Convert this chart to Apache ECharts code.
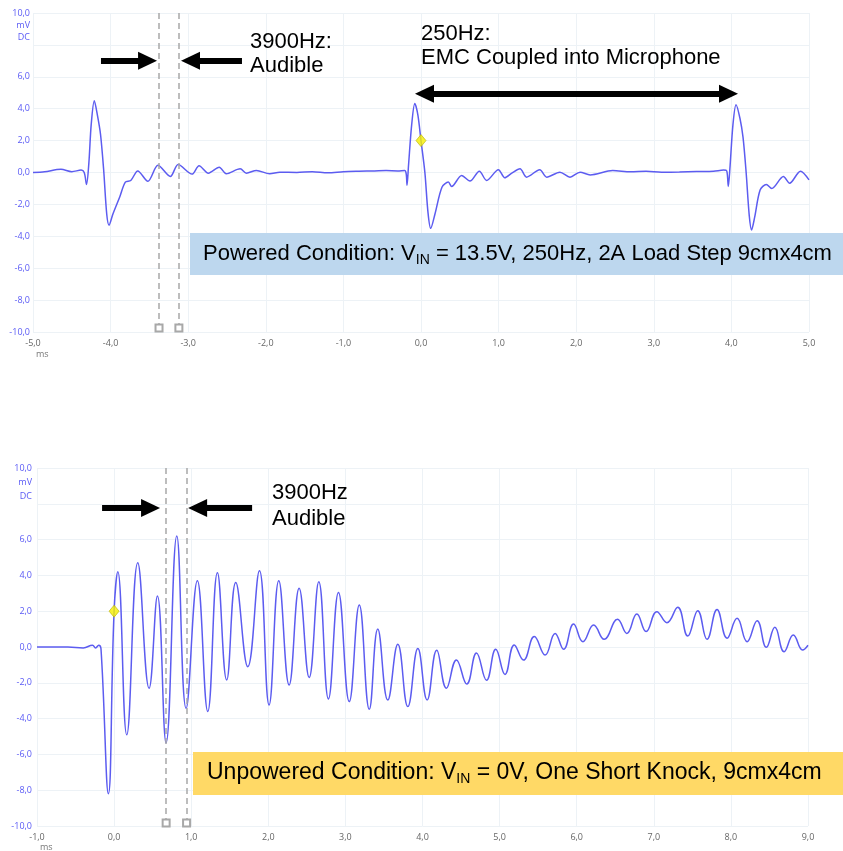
<!DOCTYPE html>
<html>
<head>
<meta charset="utf-8">
<title>EMC microphone capture</title>
<script src="https://cdn.jsdelivr.net/npm/echarts@6/dist/echarts.min.js"></script>
<style>
  html, body { margin: 0; padding: 0; background: #fff; }
  #chart { width: 843px; height: 851px; }
</style>
</head>
<body>
<div id="chart"></div>
<script>
// top capture: time (ms), voltage (mV)
var topTrace = [
  [-5.0, 0.0], [-4.85, 0.05], [-4.64, 0.2], [-4.5, 0.05], [-4.38, 0.15], [-4.34, 0.0],
  [-4.31, -0.75], [-4.28, 0.6], [-4.25, 3.0], [-4.21, 4.5], [-4.17, 3.6], [-4.13, 2.4],
  [-4.09, 0.2], [-4.05, -2.6], [-4.02, -3.3], [-3.97, -2.6], [-3.88, -1.5], [-3.81, -0.6],
  [-3.74, -0.5], [-3.65, 0.1], [-3.52, -0.55], [-3.39, 0.45], [-3.23, -0.25], [-3.13, 0.5],
  [-2.95, -0.1], [-2.86, 0.43], [-2.74, -0.04], [-2.60, 0.33], [-2.51, -0.08], [-2.33, 0.23],
  [-2.25, -0.04], [-2.12, 0.13], [-1.95, -0.08], [-1.82, 0.02], [-1.6, 0.0], [-1.4, 0.05],
  [-1.2, -0.02], [-1.0, 0.05], [-0.8, 0.08], [-0.6, 0.1], [-0.45, 0.12], [-0.3, 0.1],
  [-0.21, 0.12], [-0.19, -0.1], [-0.18, -0.8], [-0.16, 0.5], [-0.12, 3.0], [-0.08, 4.33],
  [-0.04, 3.6], [0.0, 2.0], [0.05, 0.0], [0.09, -2.5], [0.125, -3.5], [0.18, -2.6],
  [0.27, -0.92], [0.352, -0.6], [0.395, -0.875], [0.524, -0.19], [0.631, -0.54], [0.752, 0.08],
  [0.846, -0.5], [0.997, 0.17], [1.08, -0.33], [1.17, -0.04], [1.276, 0.23], [1.36, -0.29],
  [1.53, 0.17], [1.62, -0.29], [1.79, 0.02], [1.92, -0.29], [2.05, 0.02], [2.18, -0.15],
  [2.47, 0.12], [2.7, 0.05], [2.9, 0.08], [3.1, 0.02], [3.33, 0.03], [3.55, 0.06],
  [3.77, 0.08], [3.9, 0.15], [3.94, 0.1], [3.96, -0.875], [3.98, 0.2], [4.02, 3.0],
  [4.06, 4.25], [4.11, 3.4], [4.15, 2.2], [4.19, 0.0], [4.23, -2.7], [4.26, -3.6],
  [4.30, -2.8], [4.37, -1.1], [4.45, -0.75], [4.52, -1.0], [4.67, -0.25], [4.75, -0.67],
  [4.89, 0.08], [5.0, -0.46]
];

// bottom capture: peaks and troughs of the knock ring-down
var bottomTrace = [
  [-1.0, 0.0], [-0.6, 0.0], [-0.4, -0.05], [-0.28, 0.1], [-0.24, -0.05], [-0.2, 0.1],
  [-0.17, -0.1], [-0.074, -8.2], [0.0, 2.0], [0.048, 4.2], [0.164, -4.9], [0.307, 4.7],
  [0.454, -2.3], [0.562, 2.85], [0.674, -5.35], [0.813, 6.2], [0.934, -3.43], [1.08, 3.7],
  [1.215, -3.6], [1.34, 4.15], [1.46, -1.84], [1.578, 3.6], [1.734, -1.1], [1.885, 4.26],
  [2.01, -3.24], [2.136, 3.7], [2.27, -2.12], [2.40, 3.28], [2.53, -1.7], [2.655, 3.65],
  [2.78, -2.9], [2.91, 3.05], [3.05, -3.05], [3.18, 2.35], [3.31, -3.48], [3.42, 1.0],
  [3.55, -2.96], [3.68, 0.15], [3.81, -3.33], [3.94, -0.08], [4.06, -2.96], [4.185, -0.18],
  [4.31, -2.3], [4.44, -0.72], [4.574, -2.07], [4.70, -0.33], [4.83, -1.86], [4.95, -0.13],
  [5.07, -1.53], [5.19, 0.11], [5.31, -0.73], [5.45, 0.58], [5.59, -0.45], [5.72, 0.76],
  [5.83, -0.13], [5.96, 1.28], [6.08, 0.3], [6.22, 1.23], [6.355, 0.43], [6.53, 1.55],
  [6.65, 0.76], [6.78, 1.84], [6.90, 0.86], [7.04, 1.97], [7.17, 1.36], [7.31, 2.22],
  [7.44, 0.61], [7.57, 2.03], [7.69, 0.43], [7.82, 2.1], [7.95, 0.49], [8.08, 1.6],
  [8.21, 0.3], [8.34, 1.47], [8.46, -0.02], [8.57, 1.1], [8.69, -0.26], [8.81, 0.67],
  [8.93, -0.17], [9.0, 0.1]
];

// scope cursors (ms) and the yellow trigger marker
var topCursors = [-3.376, -3.12];
var bottomCursors = [0.675, 0.94];
var topMarker = [[0.0, 2.0]];
var bottomMarker = [[0.0, 2.0]];

// annotation arrows: [startX, endX, y] in data units
var topArrowRight = [-4.124, -3.524, 7.0];
var topArrowLeft = [-2.307, -2.970, 7.0];
var topSpan = [0.045, 3.963, 4.94];
var bottomArrowRight = [-0.156, 0.473, 7.77];
var bottomArrowLeft = [1.79, 1.083, 7.77];

var traceColor = "#5c5cf0";
var fontFam = '"Liberation Sans", Arial, sans-serif';

function fmt(v) {
  return v.toFixed(1).replace(".", ",");
}
function yFmt(v) {
  if (v === 10) return "\n\n10,0\nmV\nDC";
  if (v === 8) return "";
  return fmt(v);
}

function arrow(a, both) {
  return [
    { coord: [a[0], a[2]], symbol: both ? "triangle" : "none", symbolSize: [18, 19] },
    { coord: [a[1], a[2]], symbol: "triangle", symbolSize: [18, 19] },
  ];
}
function cursor(x, bottom) {
  return [
    { coord: [x, 10], symbol: "none" },
    { coord: [x, bottom], symbol: "emptyRect", symbolSize: 7 },
  ];
}

function xAxisCfg(idx, min, max) {
  return {
    gridIndex: idx,
    type: "value",
    min: min,
    max: max,
    interval: 1,
    axisLine: { show: false },
    axisTick: { show: false },
    splitLine: { show: true, lineStyle: { color: "#edf2f6", width: 1 } },
    axisLabel: { formatter: fmt, color: "#666", fontSize: 9, margin: 7, fontFamily: "Open Sans" },
  };
}
function yAxisCfg(idx, lh, margin) {
  return {
    gridIndex: idx,
    type: "value",
    min: -10,
    max: 10,
    interval: 2,
    axisLine: { show: false },
    axisTick: { show: false },
    splitLine: { show: true, lineStyle: { color: "#edf2f6", width: 1 } },
    axisLabel: {
      formatter: yFmt,
      color: "#5a5af5",
      fontSize: 9,
      lineHeight: lh,
      margin: margin,
      fontFamily: "Open Sans",
    },
  };
}

var arrowStyle = { color: "#000", width: 6, type: "solid" };
var cursorStyle = { color: "#a8a8a8", width: 1.5, type: [6, 4] };

var myChart = echarts.init(document.getElementById("chart"));
myChart.setOption({
  animation: false,
  grid: [
    { left: 33, right: 34, top: 13, height: 319, outerBoundsMode: "none", containLabel: false },
    { left: 37, right: 35, top: 468, height: 358, outerBoundsMode: "none", containLabel: false },
  ],
  xAxis: [xAxisCfg(0, -5, 5), xAxisCfg(1, -1, 9)],
  yAxis: [yAxisCfg(0, 12, 3), yAxisCfg(1, 14, 5)],
  series: [
    {
      type: "line",
      xAxisIndex: 0,
      yAxisIndex: 0,
      data: topTrace,
      symbol: "none",
      smooth: 0.3,
      lineStyle: { color: traceColor, width: 1.5 },
      markLine: {
        silent: true,
        animation: false,
        label: { show: false },
        lineStyle: cursorStyle,
        itemStyle: { color: "#a8a8a8" },
        data: [cursor(topCursors[0], -9.75), cursor(topCursors[1], -9.75)],
      },
    },
    {
      type: "line",
      xAxisIndex: 0,
      yAxisIndex: 0,
      data: [],
      markLine: {
        silent: true,
        animation: false,
        label: { show: false },
        lineStyle: arrowStyle,
        itemStyle: { color: "#000" },
        data: [arrow(topArrowRight), arrow(topArrowLeft), arrow(topSpan, true)],
      },
    },
    {
      type: "scatter",
      xAxisIndex: 0,
      yAxisIndex: 0,
      data: topMarker,
      symbol: "diamond",
      symbolSize: [10, 12],
      z: 5,
      itemStyle: { color: "#f6f000", borderColor: "#b8b000", borderWidth: 0.8 },
    },
    {
      type: "line",
      xAxisIndex: 1,
      yAxisIndex: 1,
      data: bottomTrace,
      symbol: "none",
      smooth: 0.45,
      lineStyle: { color: traceColor, width: 1.5 },
      markLine: {
        silent: true,
        animation: false,
        label: { show: false },
        lineStyle: cursorStyle,
        itemStyle: { color: "#a8a8a8" },
        data: [cursor(bottomCursors[0], -9.83), cursor(bottomCursors[1], -9.83)],
      },
    },
    {
      type: "line",
      xAxisIndex: 1,
      yAxisIndex: 1,
      data: [],
      markLine: {
        silent: true,
        animation: false,
        label: { show: false },
        lineStyle: arrowStyle,
        itemStyle: { color: "#000" },
        data: [arrow(bottomArrowRight), arrow(bottomArrowLeft)],
      },
    },
    {
      type: "scatter",
      xAxisIndex: 1,
      yAxisIndex: 1,
      data: bottomMarker,
      symbol: "diamond",
      symbolSize: [10, 12],
      z: 5,
      itemStyle: { color: "#f6f000", borderColor: "#b8b000", borderWidth: 0.8 },
    },
  ],
  graphic: [
    { type: "text", z: 100, left: 36, top: 350, style: { text: "ms", fontSize: 9, fill: "#777", fontFamily: "Open Sans" } },
    { type: "text", z: 100, left: 40, top: 843, style: { text: "ms", fontSize: 9, fill: "#777", fontFamily: "Open Sans" } },
    {
      type: "text", z: 100, x: 250, y: 30,
      style: { text: "3900Hz:\nAudible", font: "22px " + fontFam, fill: "#000", lineHeight: 24 },
    },
    {
      type: "text", z: 100, x: 421, y: 22,
      style: { text: "250Hz:\nEMC Coupled into Microphone", font: "22px " + fontFam, fill: "#000", lineHeight: 24 },
    },
    {
      type: "text", z: 100, x: 272, y: 480,
      style: { text: "3900Hz\nAudible", font: "22px " + fontFam, fill: "#000", lineHeight: 26 },
    },
    {
      type: "rect", z: 100,
      shape: { x: 190, y: 233, width: 653, height: 42 },
      style: { fill: "#bdd7ee" },
    },
    {
      type: "text", z: 101, x: 203, y: 254,
      style: {
        text: "{n|Powered Condition: V}{s|IN}{n| = 13.5V, 250Hz, 2A Load Step 9cmx4cm}",
        verticalAlign: "middle",
        fill: "#000",
        rich: {
          n: { fontSize: 22, fontFamily: fontFam, lineHeight: 26, fill: "#000" },
          s: { fontSize: 14, fontFamily: fontFam, lineHeight: 15, verticalAlign: "bottom", fill: "#000" },
        },
      },
    },
    {
      type: "rect", z: 100,
      shape: { x: 193, y: 752, width: 650, height: 43 },
      style: { fill: "#ffd966" },
    },
    {
      type: "text", z: 101, x: 207, y: 773,
      style: {
        text: "{n|Unpowered Condition: V}{s|IN}{n| = 0V, One Short Knock, 9cmx4cm}",
        verticalAlign: "middle",
        fill: "#000",
        rich: {
          n: { fontSize: 23, fontFamily: fontFam, lineHeight: 27, fill: "#000" },
          s: { fontSize: 14, fontFamily: fontFam, lineHeight: 15, verticalAlign: "bottom", fill: "#000" },
        },
      },
    },
  ],
});
</script>
</body>
</html>
